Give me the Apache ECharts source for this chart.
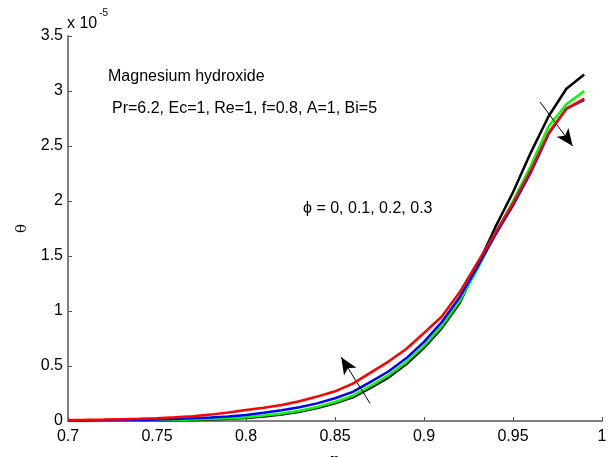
<!DOCTYPE html>
<html>
<head>
<meta charset="utf-8">
<script src="https://cdn.jsdelivr.net/npm/echarts@6/dist/echarts.min.js"></script>
<style>
  html, body { margin: 0; padding: 0; background: #fff; }
  #chart { width: 612px; height: 457px; }
</style>
</head>
<body>
<div id="chart"></div>
<script>
// eta values
const etaValues = [0.70, 0.71, 0.72, 0.73, 0.74, 0.75, 0.76, 0.77, 0.78, 0.79,
    0.80, 0.81, 0.82, 0.83, 0.84, 0.85, 0.86, 0.87, 0.88, 0.89,
    0.90, 0.91, 0.92, 0.93, 0.94, 0.95, 0.96, 0.97, 0.98, 0.99];

// theta (x 1e-5) for phi = 0, 0.1, 0.2, 0.3
const phi0 = [0.001, 0.001, 0.002, 0.002, 0.003, 0.005, 0.007, 0.010, 0.014, 0.020,
    0.028, 0.040, 0.058, 0.083, 0.117, 0.160, 0.215, 0.300, 0.395, 0.515,
    0.665, 0.845, 1.070, 1.410, 1.760, 2.080, 2.440, 2.770, 3.020, 3.150];
const phi1 = [0.002, 0.002, 0.003, 0.004, 0.005, 0.007, 0.010, 0.014, 0.019, 0.026,
    0.035, 0.050, 0.068, 0.094, 0.128, 0.173, 0.230, 0.320, 0.415, 0.535,
    0.685, 0.865, 1.090, 1.380, 1.700, 2.000, 2.320, 2.680, 2.880, 3.000];
const phi2 = [0.004, 0.005, 0.006, 0.008, 0.010, 0.013, 0.018, 0.024, 0.032, 0.042,
    0.055, 0.075, 0.098, 0.125, 0.160, 0.207, 0.265, 0.355, 0.450, 0.570,
    0.720, 0.900, 1.125, 1.400, 1.690, 1.960, 2.260, 2.610, 2.840, 2.920];
const phi3 = [0.010, 0.011, 0.013, 0.017, 0.021, 0.026, 0.034, 0.044, 0.058, 0.078,
    0.100, 0.120, 0.145, 0.180, 0.222, 0.270, 0.340, 0.440, 0.540, 0.655,
    0.800, 0.950, 1.170, 1.440, 1.710, 1.980, 2.280, 2.620, 2.840, 2.930];

const seriesColors = ['#000000', '#00ff00', '#0000ff', '#ff0000'];
const seriesValues = [phi0, phi1, phi2, phi3];

// arrow annotations in data coords [eta, theta]
const arrowUp = [[0.8697, 0.16], [0.8535, 0.58]];
const arrowDown = [[0.9652, 2.90], [0.9835, 2.50]];

const chart = echarts.init(document.getElementById('chart'));
const font = 'Liberation Sans, Arial, sans-serif';
const axisGray = '#808080';

function toPairs(vals) {
    return etaValues.map((x, i) => [x, vals[i]]);
}

function arrowLine(pts) {
    return {
        silent: true,
        symbol: ['none', 'arrow'],
        symbolSize: [11, 17],
        lineStyle: { color: '#000', width: 1, type: 'solid' },
        label: { show: false },
        data: [[{ coord: pts[0] }, { coord: pts[1] }]]
    };
}

const series = seriesValues.map((vals, i) => ({
    type: 'line',
    data: toPairs(vals),
    showSymbol: false,
    symbol: 'none',
    lineStyle: { color: seriesColors[i], width: 2.5 },
    itemStyle: { color: seriesColors[i] },
    z: 2 + i,
    animation: false
}));
series[0].markLine = arrowLine(arrowUp);
series[1].markLine = arrowLine(arrowDown);

const option = {
    backgroundColor: '#ffffff',
    animation: false,
    grid: { left: 68, right: 10, top: 36, bottom: 36, containLabel: false, outerBoundsMode: 'none' },
    xAxis: {
        type: 'value',
        min: 0.7,
        max: 1,
        interval: 0.05,
        name: 'η',
        nameLocation: 'middle',
        nameGap: 32,
        nameTextStyle: { fontFamily: 'DejaVu Serif, serif', fontSize: 16, color: '#000' },
        axisLine: { show: true, lineStyle: { color: axisGray, width: 2 } },
        axisTick: { show: true, inside: true, length: 4, lineStyle: { color: '#555', width: 1 } },
        axisLabel: { color: '#000', fontSize: 16, fontFamily: font, margin: 8 },
        splitLine: { show: false }
    },
    yAxis: {
        type: 'value',
        min: 0,
        max: 3.5,
        interval: 0.5,
        name: 'θ',
        nameLocation: 'middle',
        nameGap: 37,
        nameTextStyle: { fontFamily: 'DejaVu Serif, serif', fontSize: 15, color: '#000' },
        axisLine: { show: true, lineStyle: { color: axisGray, width: 2 } },
        axisTick: { show: true, inside: true, length: 4, lineStyle: { color: '#555', width: 1 } },
        axisLabel: { color: '#000', fontSize: 16, fontFamily: font, margin: 5 },
        splitLine: { show: false }
    },
    graphic: [
        {
            type: 'text', left: 67, top: 8,
            style: {
                text: '{a|x 10}{b|-5}',
                rich: {
                    a: { fontSize: 16, fontFamily: font, fill: '#000', padding: [8, 0, 0, 0] },
                    b: { fontSize: 10, fontFamily: font, fill: '#000', verticalAlign: 'top', padding: [0, 0, 0, 2] }
                }
            }
        },
        {
            type: 'text', left: 108, top: 69,
            style: { text: 'Magnesium hydroxide', fontSize: 16, fontFamily: font, fill: '#000' }
        },
        {
            type: 'text', left: 112, top: 101,
            style: { text: 'Pr=6.2, Ec=1, Re=1, f=0.8, A=1, Bi=5', fontSize: 16, fontFamily: font, fill: '#000' }
        },
        {
            type: 'text', left: 303, top: 201,
            style: { text: 'ϕ = 0, 0.1, 0.2, 0.3', fontSize: 16, fontFamily: font, fill: '#000' }
        }
    ],
    series: series
};

chart.setOption(option);
</script>
</body>
</html>
